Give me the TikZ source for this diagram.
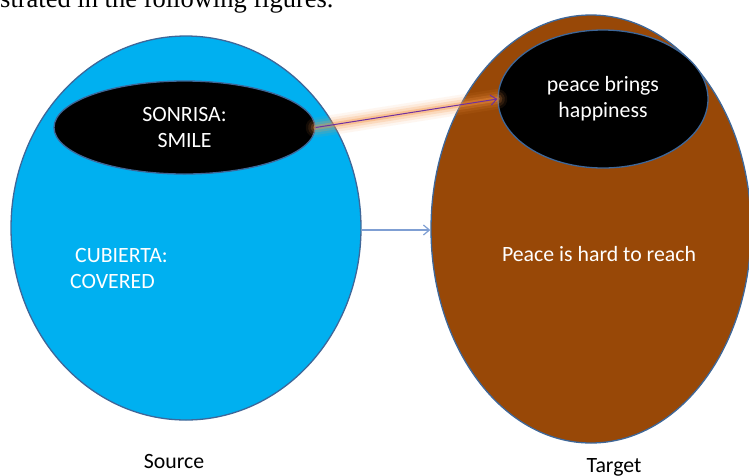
\documentclass[tikz,border=0pt]{standalone}
\usepackage{fontspec}
\setmainfont{Carlito}
\newfontfamily\timesf{Liberation Serif}
\usetikzlibrary{shapes.geometric,arrows.meta}
\definecolor{srcblue}{HTML}{00B0F0}
\definecolor{tgtbrown}{HTML}{984807}
\definecolor{edgeblue}{HTML}{3E6799}
\definecolor{linkblue}{HTML}{7F9FD3}
\definecolor{mappurple}{HTML}{7030A0}
\definecolor{glowcol}{HTML}{F79646}
\tikzset{
  bigoval/.style={ellipse, draw=edgeblue, line width=1.3pt, inner sep=0pt},
  blob/.style={ellipse, draw=edgeblue, line width=1.3pt, fill=black, inner sep=0pt,
    text=white, align=center, font=\fontsize{21.8}{26}\selectfont},
  lbl/.style={text=white, inner sep=0pt, font=\fontsize{21.8}{26}\selectfont},
  captext/.style={text=black, inner sep=0pt, font=\fontsize{21.8}{26}\selectfont},
  barb/.style={-{Straight Barb[length=6pt,width=10pt]}},
}
\begin{document}
\begin{tikzpicture}[x=1pt,y=-1pt]
\useasboundingbox (0,0) rectangle (749,475);
\fill[white] (0,0) rectangle (749,475);
% top text (cut off)
\node[anchor=base west, inner sep=0pt, font=\fontsize{26.5}{30}\timesf] (toptext) at (0,7) {strated in the following figures.};
% domains
\node[bigoval, fill=srcblue, minimum width=350pt, minimum height=384pt] (src) at (186,228) {};
\node[bigoval, fill=tgtbrown, minimum width=320pt, minimum height=428pt] (tgt) at (591,229) {};
% inner concepts
\node[blob, minimum width=261pt, minimum height=93pt] (s1) at (184.5,127.5) {SONRISA:\\SMILE};
\node[blob, minimum width=210pt, minimum height=138pt] (t1) at (603,99) {peace brings\\happiness};
% labels
\node[lbl, anchor=base west] (cub1) at (75,262) {CUBIERTA:};
\node[lbl, anchor=base west] (cub2) at (70,288) {COVERED};
\node[lbl, anchor=base] (peace) at (599,261) {Peace is hard to reach};
\node[captext, anchor=base] (srccap) at (174,468) {Source};
\node[captext, anchor=base] (tgtcap) at (614,472) {Target};
% domain mapping arrow
\draw[barb, linkblue, line width=1.2pt] (src.east) ++(0,2) coordinate (a0) -- (a0 -| tgt.west);
% glowing mapping arrow
\foreach \w/\o in {20/0.08, 15/0.12, 10/0.2, 5/0.35} {
  \draw[glowcol, line width=\w pt, opacity=\o, line cap=round] (s1.east) -- (t1.west);
}
\draw[barb, mappurple, line width=1pt] (s1.east) -- (t1.west);
\end{tikzpicture}
\end{document}
